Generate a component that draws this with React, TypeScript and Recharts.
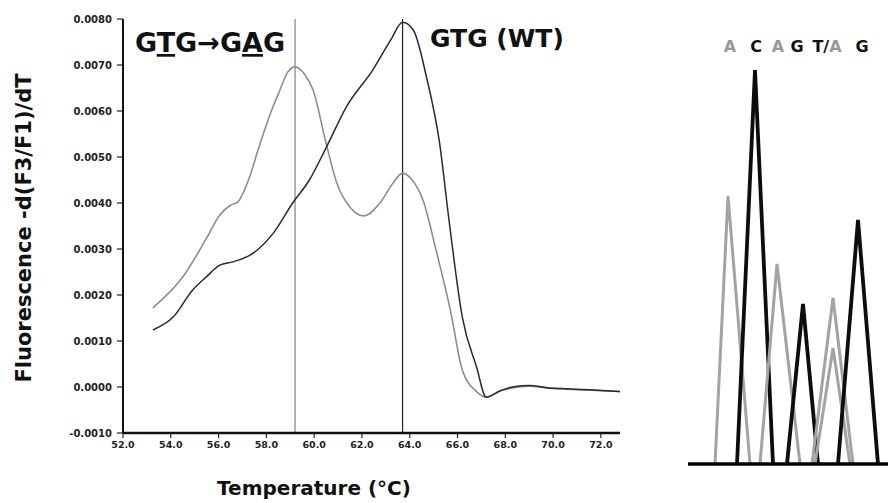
import React from 'react';
import { LineChart, Line, XAxis, YAxis, ReferenceLine, LabelList } from 'recharts';

// ---- Melting curve data (temperature °C, -d(F3/F1)/dT) ----
const mutantTemp = [53.25, 54.5, 55.5, 56.05, 56.5, 56.8, 57.3, 57.65, 58.1, 58.57, 58.9, 59.2, 59.6, 59.95, 60.5, 60.95, 61.5, 62.1, 62.75, 63.3, 63.7, 64.1, 64.55, 65.1, 65.7, 66.2, 66.8, 67.2, 67.8, 68.3, 69.0, 69.8, 70.6, 71.5, 72.8];
const mutantVal = [0.00172, 0.00239, 0.00324, 0.00374, 0.00395, 0.00402, 0.00457, 0.00515, 0.00585, 0.00646, 0.00685, 0.00696, 0.0068, 0.00646, 0.0053, 0.00443, 0.00391, 0.00372, 0.004, 0.00443, 0.00465, 0.0045, 0.00407, 0.00298, 0.00167, 0.00037, -0.0001, -0.00022, -0.00008, -0.00002, 0.00002, -0.00002, -0.00005, -0.00007, -0.0001];

const wtTemp = [53.25, 54.1, 54.9, 55.5, 56.05, 56.6, 57.45, 58.3, 59.1, 59.8, 60.5, 61.35, 62.45, 63.2, 63.7, 64.15, 64.7, 65.25, 65.65, 66.2, 66.8, 67.2, 67.8, 68.3, 69.0, 69.8, 70.6, 71.5, 72.8];
const wtVal = [0.00124, 0.00152, 0.0021, 0.0024, 0.00265, 0.00272, 0.00291, 0.00335, 0.004, 0.0045, 0.0052, 0.00609, 0.00689, 0.00754, 0.00793, 0.00776, 0.00674, 0.0053, 0.0036, 0.00152, 0.00043, -0.00022, -0.00008, 0.0, 0.00003, -0.00002, -0.00004, -0.00006, -0.0001];

const xTicks = [52, 54, 56, 58, 60, 62, 64, 66, 68, 70, 72];
const yTicks = [-0.001, 0, 0.001, 0.002, 0.003, 0.004, 0.005, 0.006, 0.007, 0.008];
const mutantPeakTemp = 59.2;
const wtPeakTemp = 63.7;

// ---- Sequencing trace (scan position, signal) ----
const peakColor = ['grey', 'black', 'grey', 'black', 'grey', 'grey', 'black'];
const peakStart = [13.5, 24.5, 36, 49.5, 62, 63.5, 75];
const peakApex = [20, 33.5, 44.5, 57.5, 72.5, 72.5, 85];
const peakEnd = [31, 42.5, 56, 65, 82.5, 81, 95];
const peakHeight = [67, 98.5, 50, 40, 41.5, 29, 61];
const baseLetters = ['A', 'C', 'A', 'G', 'T/A', 'G'];
const letterPos = [21, 34, 45, 54.5, 69.5, 87];
const letterLevel = 100;

const mutantData = mutantTemp.map((t, i) => ({ t, v: mutantVal[i] }));
const wtData = wtTemp.map((t, i) => ({ t, v: wtVal[i] }));
const peaks = peakStart.map((s, i) => ({
  color: peakColor[i],
  data: [
    { x: s, y: 0 },
    { x: peakApex[i], y: peakHeight[i] },
    { x: peakEnd[i], y: 0 },
  ],
}));
const letterData = letterPos.map((x, i) => ({ x, y: letterLevel, b: baseLetters[i] }));

const FONT = '"DejaVu Sans", sans-serif';
const GREY_LETTER = '#9a9a9a';

const LetterLabel = (props: any) => {
  const { x, y, value } = props;
  const label = String(value ?? '');
  const common = { fontFamily: FONT, fontWeight: 'bold' as const, fontSize: 16 };
  const ty = y - 12;
  if (label === 'T/A') {
    return (
      <text x={x} y={ty} textAnchor="middle" {...common}>
        <tspan fill="#111">T/</tspan>
        <tspan fill={GREY_LETTER}>A</tspan>
      </text>
    );
  }
  const grey = label === 'A';
  return (
    <text x={x} y={ty} textAnchor="middle" fill={grey ? GREY_LETTER : '#111'} {...common}>
      {label}
    </text>
  );
};

export default function App() {
  return (
    <div style={{ position: 'absolute', left: 0, top: 0, width: 889, height: 503, background: '#fff' }}>
      <div style={{ position: 'absolute', left: 0, top: 0 }}>
        <LineChart width={660} height={503} margin={{ top: 19, right: 40, bottom: 0, left: 0 }}>
          <XAxis
            dataKey="t"
            type="number"
            domain={[52, 72.8]}
            ticks={xTicks}
            tickFormatter={(v: number) => v.toFixed(1)}
            height={70}
            allowDataOverflow
            axisLine={{ stroke: '#111', strokeWidth: 2.5 }}
            tickLine={{ stroke: '#222', strokeWidth: 1.2 }}
            tickSize={5}
            tickMargin={3}
            tick={{ fill: '#222', fontSize: 9.5, fontFamily: FONT, fontWeight: 'bold' }}
          />
          <YAxis
            type="number"
            domain={[-0.001, 0.008]}
            ticks={yTicks}
            tickFormatter={(v: number) => v.toFixed(4)}
            width={123}
            allowDataOverflow
            axisLine={{ stroke: '#111', strokeWidth: 2 }}
            tickLine={{ stroke: '#222', strokeWidth: 1.2 }}
            tickSize={6}
            tickMargin={5}
            tick={{ fill: '#222', fontSize: 10, fontFamily: FONT, fontWeight: 'bold' }}
          />
          <ReferenceLine x={mutantPeakTemp} stroke="#9a9a9a" strokeWidth={1.5} />
          <ReferenceLine x={wtPeakTemp} stroke="#222" strokeWidth={1.2} />
          <Line data={mutantData} dataKey="v" type="monotone" stroke="#8e8e8e" strokeWidth={1.6} dot={false} isAnimationActive={false} />
          <Line data={wtData} dataKey="v" type="monotone" stroke="#2a2a2a" strokeWidth={1.5} dot={false} isAnimationActive={false} />
        </LineChart>
      </div>
      <div style={{ position: 'absolute', left: 680, top: 0 }}>
        <LineChart width={209} height={503} margin={{ top: 64, right: 1, bottom: 9, left: 8 }}>
          <XAxis
            dataKey="x"
            type="number"
            domain={[0, 100]}
            height={30}
            axisLine={{ stroke: '#000', strokeWidth: 3.5 }}
            tick={false}
            tickLine={false}
          />
          <YAxis type="number" domain={[0, 100]} hide />
          {peaks.map((p, i) => (
            <Line
              key={i}
              data={p.data}
              dataKey="y"
              type="linear"
              stroke={p.color === 'grey' ? '#a3a3a3' : '#0d0d0d'}
              strokeWidth={p.color === 'grey' ? 3 : 3.8}
              strokeLinejoin="miter"
              dot={false}
              isAnimationActive={false}
            />
          ))}
          <Line
            data={letterData}
            dataKey="y"
            stroke="none"
            dot={false}
            activeDot={false}
            isAnimationActive={false}
          >
            <LabelList dataKey="b" content={<LetterLabel />} />
          </Line>
        </LineChart>
      </div>
      <svg width={889} height={503} style={{ position: 'absolute', left: 0, top: 0, pointerEvents: 'none' }}>
        <text
          x={24}
          y={228}
          transform="rotate(-90 24 228)"
          textAnchor="middle"
          dominantBaseline="central"
          fontFamily={FONT}
          fontWeight="bold"
          fontSize={21}
          fill="#111"
        >
          Fluorescence -d(F3/F1)/dT
        </text>
        <text x={314} y={495} textAnchor="middle" fontFamily={FONT} fontWeight="bold" fontSize={20} fill="#111">
          Temperature (°C)
        </text>
        <text x={135} y={52} fontFamily={FONT} fontWeight="bold" fontSize={27} fill="#111">
          G<tspan textDecoration="underline">T</tspan>G→G<tspan textDecoration="underline">A</tspan>G
        </text>
        <text x={430} y={47} fontFamily={FONT} fontWeight="bold" fontSize={25} fill="#111">
          GTG (WT)
        </text>
      </svg>
    </div>
  );
}
